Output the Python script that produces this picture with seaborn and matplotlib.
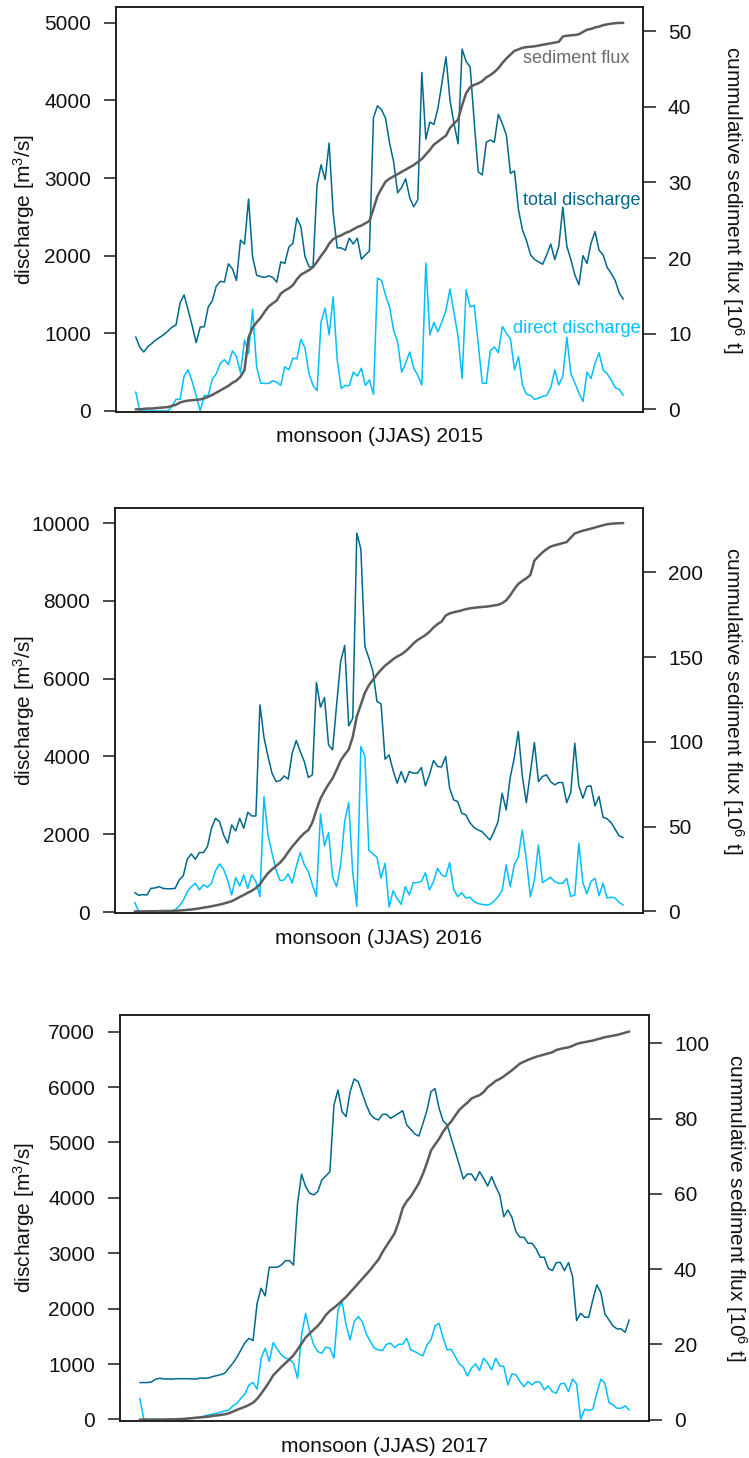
import numpy as np
import pandas as pd
import matplotlib
matplotlib.use("Agg")
import matplotlib.pyplot as plt
import seaborn as sns

# ---------------- data: daily values over the monsoon season (JJAS) ----------------
total_2015 = [954, 820, 760, 830, 870, 915, 950, 985, 1030, 1080, 1108, 1390, 1495, 1300, 1100,
              880, 1080, 1085, 1340, 1420, 1610, 1670, 1660, 1895, 1830, 1680, 2200, 2150, 2730,
              1985, 1750, 1730, 1720, 1740, 1720, 1660, 1920, 1900, 2110, 2160, 2485, 2370, 1990,
              1860, 1850, 2910, 3170, 2980, 3450, 2550, 2100, 2100, 2070, 2225, 2150, 2225, 1955,
              2010, 2060, 3775, 3930, 3880, 3770, 3450, 3210, 2810, 2880, 2990, 2745, 2630, 2720,
              4360, 3500, 3720, 3690, 3900, 4225, 4560, 4000, 3700, 3440, 4660, 4500, 4430, 3730,
              3080, 3040, 3460, 3490, 3460, 3820, 3700, 3550, 3060, 3090, 2590, 2330, 2190, 2010,
              1950, 1920, 1890, 2010, 2150, 1950, 2120, 2625, 2120, 1950, 1750, 1625, 2000, 1900,
              2160, 2310, 2070, 2010, 1850, 1770, 1680, 1520, 1440]
direct_2015 = [245, 0, 0, 0, 0, 0, 0, 0, 0, 60, 150, 150, 450, 530, 380, 200, 0, 200, 200, 410,
               480, 615, 660, 600, 775, 700, 490, 915, 740, 1310, 570, 360, 355, 355, 390, 370,
               330, 570, 530, 680, 670, 925, 810, 480, 330, 260, 1150, 1325, 980, 1470, 660, 290,
               330, 325, 500, 450, 550, 330, 400, 215, 1710, 1680, 1490, 1340, 1040, 890, 500,
               615, 760, 550, 460, 335, 1905, 980, 1140, 1020, 1150, 1300, 1570, 1260, 960, 420,
               1560, 1340, 1360, 870, 360, 355, 775, 825, 750, 1090, 1000, 930, 530, 700, 330,
               215, 200, 150, 165, 190, 200, 300, 530, 335, 450, 950, 480, 360, 230, 120, 500,
               420, 615, 750, 530, 480, 400, 300, 280, 200]
sediment_2015 = [0.0, 0.0, 0.05, 0.1, 0.1, 0.15, 0.2, 0.25, 0.3, 0.45, 0.6, 0.9, 1.05, 1.15, 1.2,
                 1.25, 1.3, 1.45, 1.65, 1.9, 2.2, 2.5, 2.8, 3.1, 3.5, 3.8, 4.3, 5.2, 9.5, 10.8,
                 11.5, 12.1, 12.9, 13.6, 14.0, 14.4, 15.3, 15.7, 16.0, 16.4, 17.2, 17.8, 18.1,
                 18.4, 18.8, 19.5, 20.3, 21.0, 21.9, 22.5, 22.8, 23.0, 23.3, 23.5, 23.8, 24.1,
                 24.3, 24.6, 24.9, 26.5, 28.2, 29.2, 30.1, 30.5, 30.8, 31.1, 31.4, 31.7, 32.0,
                 32.3, 32.7, 33.1, 33.7, 34.3, 35.0, 35.4, 35.8, 36.2, 37.2, 37.8, 38.3, 40.2,
                 41.8, 42.6, 42.9, 43.1, 43.4, 43.9, 44.2, 44.6, 45.1, 45.8, 46.4, 46.9, 47.4,
                 47.6, 47.8, 47.9, 47.95, 48.0, 48.1, 48.2, 48.3, 48.4, 48.5, 48.6, 49.3, 49.4,
                 49.45, 49.5, 49.6, 49.9, 50.2, 50.3, 50.5, 50.6, 50.8, 50.9, 51.0, 51.05, 51.1,
                 51.1]

total_2016 = [500, 430, 450, 440, 610, 620, 655, 610, 600, 600, 610, 825, 930, 1357, 1495, 1357,
              1530, 1530, 1683, 2155, 2410, 2325, 1983, 1770, 2240, 2085, 2410, 2155, 2567, 2470,
              2470, 5327, 4496, 3998, 3570, 3355, 3380, 3500, 3415, 4085, 4410, 4125, 3870, 3460,
              3530, 5900, 5268, 5515, 4298, 4170, 5327, 6441, 6853, 4787, 4985, 9744, 9332, 6827,
              6527, 6184, 5412, 5352, 3930, 4040, 3638, 3313, 3613, 3330, 3613, 3570, 3570, 3716,
              3244, 3527, 3896, 3742, 3730, 3999, 3184, 2884, 2840, 2541, 2500, 2300, 2180, 2112,
              2070, 1957, 1855, 2070, 2327, 3056, 2627, 3457, 3956, 4641, 3499, 2813, 3585, 4358,
              3355, 3484, 3527, 3355, 3270, 3330, 3330, 2813, 3070, 4341, 3244, 2927, 3227, 3244,
              2729, 2970, 2438, 2400, 2300, 2130, 1957, 1914]
direct_2016 = [250, 0, 0, 0, 0, 0, 0, 0, 0, 20, 60, 150, 300, 520, 653, 740, 570, 700, 640, 740,
               1065, 1237, 1100, 825, 440, 885, 670, 955, 610, 955, 785, 400, 2968, 1983, 1513,
               1085, 810, 825, 980, 740, 1170, 1530, 1213, 1040, 700, 400, 2524, 1700, 2043, 912,
               653, 1213, 2327, 2815, 997, 150, 4256, 4000, 1580, 1495, 1410, 870, 1255, 130, 550,
               350, 200, 653, 440, 757, 757, 785, 1014, 570, 785, 1128, 955, 912, 1273, 585, 400,
               500, 360, 385, 280, 220, 200, 180, 200, 280, 400, 550, 1213, 653, 1213, 1410, 2112,
               1340, 400, 825, 1726, 757, 825, 895, 785, 740, 740, 870, 400, 440, 1770, 757, 470,
               785, 870, 420, 740, 360, 385, 360, 250, 180]
sediment_2016 = [0, 0, 0, 0.05, 0.1, 0.1, 0.15, 0.2, 0.25, 0.3, 0.4, 0.5, 0.7, 0.9, 1.1, 1.4, 1.8,
                 2.2, 2.6, 3.0, 3.5, 4.0, 4.6, 5.3, 6.0, 7.2, 8.5, 9.7, 11.0, 12.2, 13.8, 16.0,
                 19.5, 22.5, 24.8, 26.8, 28.8, 31.5, 35.0, 38.2, 41.0, 43.8, 46.2, 48.0, 52.5,
                 59.9, 66.5, 71.0, 75.0, 78.5, 83.5, 89.0, 92.5, 95.5, 103.0, 115.0, 122.0, 129.0,
                 133.5, 136.6, 139.8, 142.5, 145.0, 146.8, 148.8, 150.4, 151.6, 153.3, 155.5,
                 158.0, 160.0, 161.5, 163.0, 165.0, 167.5, 169.5, 171.0, 174.5, 175.8, 176.5,
                 177.0, 177.6, 178.3, 178.8, 179.1, 179.4, 179.6, 179.8, 180.1, 180.5, 180.9,
                 181.8, 183.5, 186.5, 190.1, 193.2, 195.0, 196.5, 198.5, 207.0, 209.5, 211.8,
                 213.7, 215.2, 216.0, 216.6, 217.3, 217.9, 220.5, 223.0, 223.8, 224.6, 225.2,
                 225.8, 226.5, 227.2, 227.8, 228.4, 228.7, 228.9, 229.0, 229.1]

total_2017 = [665, 665, 665, 680, 730, 742, 730, 730, 725, 735, 735, 735, 735, 730, 730, 748, 742,
              748, 773, 790, 810, 834, 924, 1014, 1122, 1254, 1386, 1464, 1422, 2097, 2368, 2230,
              2747, 2747, 2747, 2788, 2866, 2866, 2788, 3902, 4426, 4203, 4083, 4053, 4113, 4323,
              4396, 4473, 5677, 5948, 5557, 5466, 5918, 6146, 6098, 5888, 5677, 5508, 5436, 5406,
              5508, 5508, 5436, 5480, 5526, 5574, 5316, 5238, 5154, 5117, 5340, 5580, 5918, 5972,
              5617, 5388, 5316, 5075, 4835, 4594, 4341, 4431, 4431, 4311, 4473, 4353, 4215, 4383,
              4203, 4053, 3661, 3781, 3649, 3390, 3288, 3288, 3180, 3180, 3078, 2928, 2928, 2729,
              2687, 2832, 2832, 2687, 2832, 2579, 1784, 1916, 1844, 1844, 2157, 2428, 2290, 1904,
              1796, 1688, 1634, 1634, 1574, 1796]
direct_2017 = [382, 0, 0, 0, 0, 0, 0, 0, 0, 0, 5, 10, 15, 25, 35, 40, 60, 80, 95, 110, 130, 153,
               170, 243, 290, 380, 460, 623, 665, 545, 1105, 1285, 1045, 1387, 1267, 1165, 1105,
               1087, 1015, 743, 1525, 1916, 1585, 1345, 1225, 1195, 1303, 1285, 1105, 1976, 2126,
               1706, 1435, 1766, 1856, 1766, 1543, 1405, 1285, 1255, 1243, 1357, 1375, 1297, 1357,
               1357, 1465, 1255, 1225, 1183, 1147, 1345, 1435, 1688, 1736, 1465, 1255, 1267, 1135,
               1003, 943, 785, 925, 1003, 883, 1105, 1015, 895, 1105, 967, 955, 623, 822, 804, 683,
               593, 683, 623, 683, 670, 533, 605, 503, 473, 641, 653, 503, 726, 641, 0, 183, 160,
               183, 473, 726, 653, 304, 262, 201, 201, 243, 170]
sediment_2017 = [0, 0, 0, 0, 0, 0, 0.02, 0.05, 0.07, 0.1, 0.15, 0.2, 0.3, 0.4, 0.5, 0.6, 0.7, 0.8,
                 1.0, 1.1, 1.25, 1.4, 1.7, 2.1, 2.6, 3.0, 3.4, 3.9, 4.5, 5.5, 6.9, 8.4, 10.0, 11.8,
                 12.9, 14.0, 15.0, 16.0, 17.1, 18.6, 20.2, 21.8, 22.9, 23.9, 24.9, 26.2, 27.8,
                 28.9, 29.7, 30.6, 31.6, 32.6, 33.8, 35.0, 36.2, 37.4, 38.6, 39.8, 41.2, 42.5,
                 44.5, 46.2, 47.8, 49.5, 52.5, 56.2, 58.0, 59.3, 61.0, 62.8, 65.3, 68.2, 71.5,
                 73.1, 74.6, 76.5, 78.0, 79.2, 80.8, 82.3, 83.3, 84.2, 85.3, 85.8, 86.2, 87.0,
                 88.3, 89.1, 90.0, 90.5, 91.2, 92.0, 92.8, 93.7, 94.6, 95.1, 95.6, 96.0, 96.4,
                 96.7, 97.0, 97.3, 97.6, 98.2, 98.5, 98.7, 98.9, 99.3, 99.8, 100.1, 100.3, 100.5,
                 100.7, 101.0, 101.3, 101.6, 101.8, 102.0, 102.2, 102.5, 102.8, 103.1]

years = ["2015", "2016", "2017"]
discharge_ticks = [list(range(0, 5001, 1000)), list(range(0, 10001, 2000)), list(range(0, 7001, 1000))]
sediment_ticks = [list(range(0, 51, 10)), list(range(0, 201, 50)), list(range(0, 101, 20))]
series_labels = ["sediment flux", "total discharge", "direct discharge"]

# ---------------- styling ----------------
sns.set_style("white")
plt.rcParams["font.family"] = ["Liberation Sans", "DejaVu Sans"]
plt.rcParams["mathtext.fontset"] = "custom"
plt.rcParams["mathtext.rm"] = "Liberation Sans"
plt.rcParams["mathtext.default"] = "regular"

C_TOTAL = "#00688B"
C_DIRECT = "#00BFFF"
C_SED = "#5c5c5c"
C_AXIS = "#1a1a1a"

W, H = 749, 1458
fig = plt.figure(figsize=(W / 100, H / 100), dpi=100)

# panel frames in pixels: left, right, top, bottom
frames = [(116, 643, 7, 412), (115, 643, 508, 913), (120, 649, 1015, 1421)]
right_label_x = [733, 733, 736]
q_limits = [(-13, 5202), (-23, 10386), (-29, 7302)]
s_limits = [(-0.36, 53.2), (-0.94, 238.0), (-0.37, 107.5)]

datasets = [(total_2015, direct_2015, sediment_2015),
            (total_2016, direct_2016, sediment_2016),
            (total_2017, direct_2017, sediment_2017)]

for i, (tot, dire, sed) in enumerate(datasets):
    l, r, t, b = frames[i]
    ax = fig.add_axes([l / W, 1 - b / H, (r - l) / W, (b - t) / H])
    df = pd.DataFrame({"day": np.arange(len(tot)), "total": tot,
                       "direct": dire, "sediment": sed})

    sns.lineplot(data=df, x="day", y="total", ax=ax, color=C_TOTAL, linewidth=1.1, legend=False)
    sns.lineplot(data=df, x="day", y="direct", ax=ax, color=C_DIRECT, linewidth=1.1, legend=False)
    ax.set_ylim(*q_limits[i])
    ax.set_xlim(-4.9, len(tot) - 1 + 4.9)
    ax.set_yticks(discharge_ticks[i])
    ax.set_xticks([])
    ax.set_xlabel("")
    ax.set_ylabel("")

    ax2 = ax.twinx()
    sns.lineplot(data=df, x="day", y="sediment", ax=ax2, color=C_SED, linewidth=1.8, legend=False)
    ax2.set_ylim(*s_limits[i])
    ax2.set_yticks(sediment_ticks[i])
    ax2.set_ylabel("")

    for a in (ax, ax2):
        for sp in a.spines.values():
            sp.set_visible(True)
            sp.set_linewidth(1.1)
            sp.set_color(C_AXIS)
        a.tick_params(axis="y", direction="out", length=9, width=1.1, color=C_AXIS,
                      labelsize=15, pad=9, labelcolor="#111111")

    cy = (t + b) / 2
    fig.text(24 / W, 1 - cy / H, "discharge [m$^3$/s]", rotation=90, ha="center",
             va="center", fontsize=15, color="#111111")
    fig.text(right_label_x[i] / W, 1 - (cy - 10) / H, "cummulative sediment flux [10$^6$ t]",
             rotation=-90, ha="center", va="center", fontsize=15, color="#111111")
    fig.text((l + r) / 2 / W, 1 - (b + 25) / H, f"monsoon (JJAS) {years[i]}",
             ha="center", va="center", fontsize=15, color="#111111")

    if i == 0:
        ax.text(96.1, 4533, series_labels[0], color="#6a6a6a", fontsize=13, ha="left", va="center")
        ax.text(96.1, 2708, series_labels[1], color=C_TOTAL, fontsize=13, ha="left", va="center")
        ax.text(93.6, 1056, series_labels[2], color=C_DIRECT, fontsize=13, ha="left", va="center")

fig.savefig("out.png", dpi=100)
